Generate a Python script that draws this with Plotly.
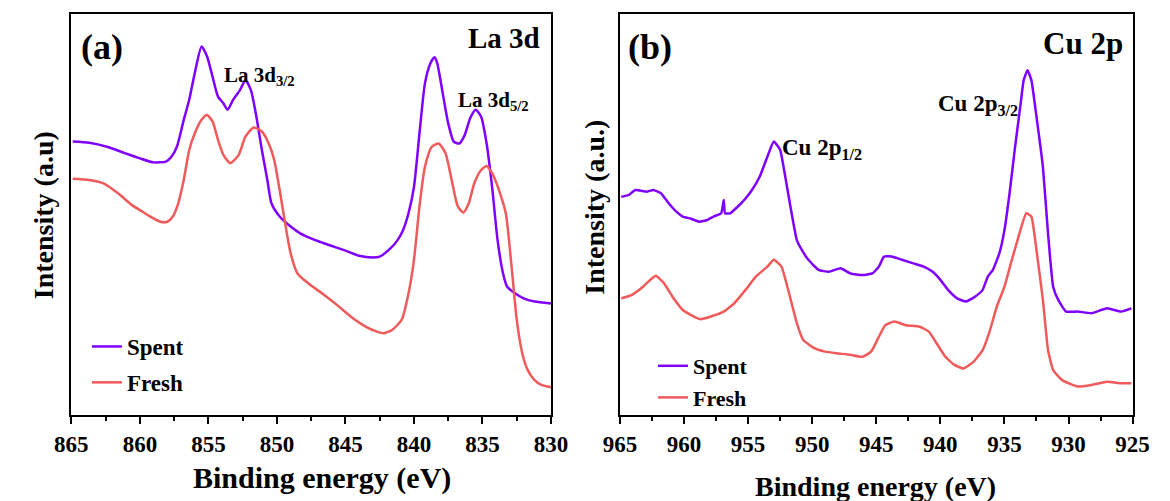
import plotly.graph_objects as go

# ---------------- data ----------------
la_energy_spent = [864.9, 863.7, 862.4, 861.1, 860.0, 859.0, 858.1, 857.7, 857.3, 856.8, 856.4, 856.0,
                   855.5, 855.1, 854.7, 854.3, 853.9, 853.6, 853.2, 852.7, 852.3, 851.9, 851.5, 851.1,
                   850.7, 850.4, 849.8, 849.0, 848.3, 847.2, 846.2, 845.1, 844.0, 843.0, 842.5, 841.7,
                   841.2, 840.8, 840.4, 840.0, 839.6, 839.2, 838.8, 838.5, 838.3, 837.9, 837.5, 837.1,
                   836.7, 836.3, 835.9, 835.5, 835.1, 834.7, 834.3, 833.9, 833.5, 833.2, 832.6, 832.0,
                   831.2, 830.0]
la_spent = [68.2, 67.9, 66.9, 65.3, 64.0, 63.0, 63.2, 64.4, 66.9, 73.6, 78.6, 85.2,
            91.9, 89.4, 84.4, 79.4, 77.7, 76.1, 78.6, 81.0, 83.5, 81.0, 74.4, 66.1,
            58.6, 52.8, 49.5, 47.0, 45.3, 43.6, 42.4, 41.1, 39.7, 39.3, 39.5, 41.6,
            43.6, 46.1, 50.3, 56.9, 70.2, 82.7, 87.7, 89.2, 87.7, 80.2, 72.7, 68.2,
            67.7, 69.8, 74.0, 76.1, 74.4, 67.7, 56.9, 43.6, 35.3, 32.0, 30.3, 29.1,
            28.3, 27.8]

la_energy_fresh = [864.9, 863.7, 862.7, 861.6, 860.6, 860.0, 859.3, 858.5, 858.0, 857.6, 857.2, 856.8,
                   856.4, 856.0, 855.5, 855.1, 854.7, 854.3, 853.9, 853.4, 852.8, 852.3, 851.7, 851.1,
                   850.6, 850.2, 849.8, 849.4, 849.0, 848.5, 847.7, 846.7, 845.6, 844.6, 843.5, 842.7,
                   842.2, 841.6, 840.9, 840.4, 840.0, 839.6, 839.2, 838.7, 838.2, 837.7, 837.2, 836.8,
                   836.4, 836.0, 835.6, 835.1, 834.7, 834.3, 833.8, 833.3, 832.9, 832.5, 832.1, 831.7,
                   831.2, 830.7, 830.0]
la_fresh = [58.9, 58.6, 57.8, 55.3, 52.4, 51.1, 49.6, 48.2, 48.2, 49.5, 52.8, 58.6,
            66.1, 70.2, 73.6, 74.8, 73.2, 68.6, 64.8, 62.8, 64.8, 69.4, 71.7, 70.7,
            67.7, 63.6, 56.1, 47.8, 40.3, 35.3, 32.8, 30.3, 27.4, 24.5, 22.0, 20.8,
            20.4, 21.2, 23.7, 30.3, 38.7, 52.0, 61.9, 66.9, 67.7, 65.3, 57.8, 52.0,
            50.5, 52.8, 57.8, 61.1, 62.1, 60.3, 56.1, 50.3, 37.8, 23.7, 15.4, 11.2,
            8.7, 7.5, 6.9]

cu_energy_spent = [964.9, 964.3, 963.8, 962.9, 962.4, 961.8, 961.2, 960.6, 960.1, 959.5, 958.8, 958.2,
                   957.7, 957.1, 956.9, 956.8, 956.4, 955.8, 955.2, 954.7, 954.1, 953.5, 953.0, 952.5,
                   952.1, 951.7, 951.2, 950.8, 950.3, 949.5, 948.7, 947.8, 947.0, 946.1, 945.3, 944.8,
                   944.4, 943.8, 943.0, 942.1, 941.3, 940.6, 940.0, 939.4, 938.7, 938.0, 937.3, 936.7,
                   936.3, 935.9, 935.4, 935.0, 934.6, 934.2, 933.7, 933.5, 933.2, 932.9, 932.5, 932.0,
                   931.6, 931.2, 930.8, 930.2, 929.3, 928.2, 927.0, 925.9, 925.1]
cu_spent = [54.4, 54.9, 56.1, 55.7, 56.1, 55.3, 52.8, 50.7, 49.5, 49.0, 48.2, 48.6,
            49.5, 50.3, 53.6, 50.3, 50.3, 52.0, 54.0, 56.1, 59.4, 64.4, 68.2, 66.1,
            59.4, 52.0, 43.6, 41.1, 38.7, 36.2, 35.7, 36.6, 35.3, 34.9, 35.3, 37.0,
            39.5, 39.5, 38.7, 37.8, 37.0, 35.7, 33.7, 31.2, 29.1, 28.3, 29.5, 31.2,
            34.5, 36.2, 40.3, 46.1, 55.3, 66.1, 78.6, 83.5, 86.0, 83.5, 74.4, 61.9,
            45.3, 32.0, 28.7, 25.8, 25.8, 25.4, 26.6, 25.8, 26.6]

cu_energy_fresh = [964.9, 964.1, 963.2, 962.6, 962.2, 961.6, 960.9, 960.1, 959.2, 958.7, 957.8, 956.9,
                   956.1, 955.2, 954.4, 953.5, 953.0, 952.4, 951.8, 951.2, 950.7, 949.8, 949.0, 948.1,
                   947.0, 946.1, 945.4, 944.8, 944.3, 943.6, 942.7, 941.6, 940.9, 940.3, 939.6, 938.9,
                   938.2, 937.4, 936.7, 936.2, 935.6, 935.0, 934.5, 933.9, 933.3, 932.9, 932.5, 932.0,
                   931.6, 931.2, 930.5, 929.3, 928.2, 927.0, 925.9, 925.1]
cu_fresh = [29.1, 29.9, 32.0, 33.8, 34.7, 33.0, 29.5, 26.2, 24.5, 23.9, 24.7, 25.8,
            27.8, 31.2, 34.5, 37.0, 38.7, 37.0, 30.3, 22.9, 18.7, 16.6, 15.8, 15.4,
            15.0, 14.5, 15.8, 19.5, 22.4, 23.3, 22.4, 22.0, 20.8, 17.9, 14.5, 12.5,
            11.6, 13.3, 16.2, 20.4, 27.0, 32.0, 37.8, 44.5, 50.3, 49.5, 41.1, 28.7,
            16.2, 11.2, 8.7, 7.1, 7.5, 8.3, 7.9, 7.9]

la_ticks = [865, 860, 855, 850, 845, 840, 835, 830]
cu_ticks = [965, 960, 955, 950, 945, 940, 935, 930, 925]

SPENT = "#8000FF"
FRESH = "#F05A5A"
FONT = "Liberation Serif"
W, H = 1170, 501


def X(px):
    return px / W


def Y(py):
    return 1 - py / H


fig = go.Figure()
fig.add_trace(go.Scatter(x=la_energy_spent, y=la_spent, name="Spent", mode="lines",
                         line=dict(color=SPENT, width=2.5, shape="spline", smoothing=0.6),
                         xaxis="x", yaxis="y", legend="legend", legendgroup="a1"))
fig.add_trace(go.Scatter(x=la_energy_fresh, y=la_fresh, name="Fresh", mode="lines",
                         line=dict(color=FRESH, width=2.5, shape="spline", smoothing=0.6),
                         xaxis="x", yaxis="y", legend="legend", legendgroup="a2"))
fig.add_trace(go.Scatter(x=cu_energy_spent, y=cu_spent, name="Spent", mode="lines",
                         line=dict(color=SPENT, width=2.5, shape="spline", smoothing=0.4),
                         xaxis="x2", yaxis="y2", legend="legend2"))
fig.add_trace(go.Scatter(x=cu_energy_fresh, y=cu_fresh, name="Fresh", mode="lines",
                         line=dict(color=FRESH, width=2.5, shape="spline", smoothing=0.4),
                         xaxis="x2", yaxis="y2", legend="legend2"))

xcommon = dict(showline=True, linecolor="black", linewidth=2, mirror=True,
               ticks="outside", ticklen=7, tickwidth=2, tickcolor="black",
               tickfont=dict(family=FONT, size=23, color="black", weight="bold"),
               showgrid=False, zeroline=False,
               minor=dict(ticks="outside", ticklen=4, tickwidth=2, tickcolor="black", dtick=2.5))
ycommon = dict(showline=True, linecolor="black", linewidth=2, mirror=True,
               ticks="", showticklabels=False, showgrid=False, zeroline=False, range=[0, 100])

fig.update_layout(
    width=W, height=H,
    margin=dict(l=0, r=0, t=0, b=0),
    paper_bgcolor="white", plot_bgcolor="white",
    font=dict(family=FONT, color="black"),
    xaxis=dict(domain=[X(56), X(550)], range=[865, 830], tickvals=la_ticks, anchor="y", **xcommon),
    yaxis=dict(domain=[Y(415), Y(14)], anchor="x", **ycommon),
    xaxis2=dict(domain=[X(621), X(1149)], range=[965, 925], tickvals=cu_ticks, anchor="y2", **xcommon),
    yaxis2=dict(domain=[Y(415), Y(14)], anchor="x2", **ycommon),
    legend=dict(x=X(72), y=Y(325), xanchor="left", yanchor="top", bgcolor="rgba(0,0,0,0)",
                font=dict(family=FONT, size=23, color="black", weight="bold"), tracegroupgap=3),
    legend2=dict(x=X(655), y=Y(345), xanchor="left", yanchor="top", bgcolor="rgba(0,0,0,0)",
                 font=dict(family=FONT, size=22, color="black", weight="bold")),
)

ann = []


def A(text, px, py, size, xanchor="center", yanchor="middle", angle=0):
    ann.append(dict(text=text, x=X(px), y=Y(py), xref="paper", yref="paper", showarrow=False,
                    xanchor=xanchor, yanchor=yanchor, textangle=angle,
                    font=dict(family=FONT, size=size, color="black", weight="bold")))


A("(a)", 64, 47, 36, xanchor="left")
A("(b)", 627, 47, 36, xanchor="left")
A("La 3d", 541, 38, 29, xanchor="right")
A("Cu 2p", 1141, 43, 31, xanchor="right")
A("La 3d<sub>3/2</sub>", 211, 76, 21, xanchor="left")
A("La 3d<sub>5/2</sub>", 452, 101, 21, xanchor="left")
A("Cu 2p<sub>1/2</sub>", 786, 149, 23, xanchor="left")
A("Cu 2p<sub>3/2</sub>", 947, 105, 23, xanchor="left")
A("Binding energy (eV)", 314, 478, 30)
A("Binding energy (eV)", 884, 486, 28)
A("Intensity (a.u)", 27, 215, 28, angle=-90)
A("Intensity (a.u.)", 594, 207, 28, angle=-90)

fig.update_layout(annotations=ann)
fig.write_html("out.html")
